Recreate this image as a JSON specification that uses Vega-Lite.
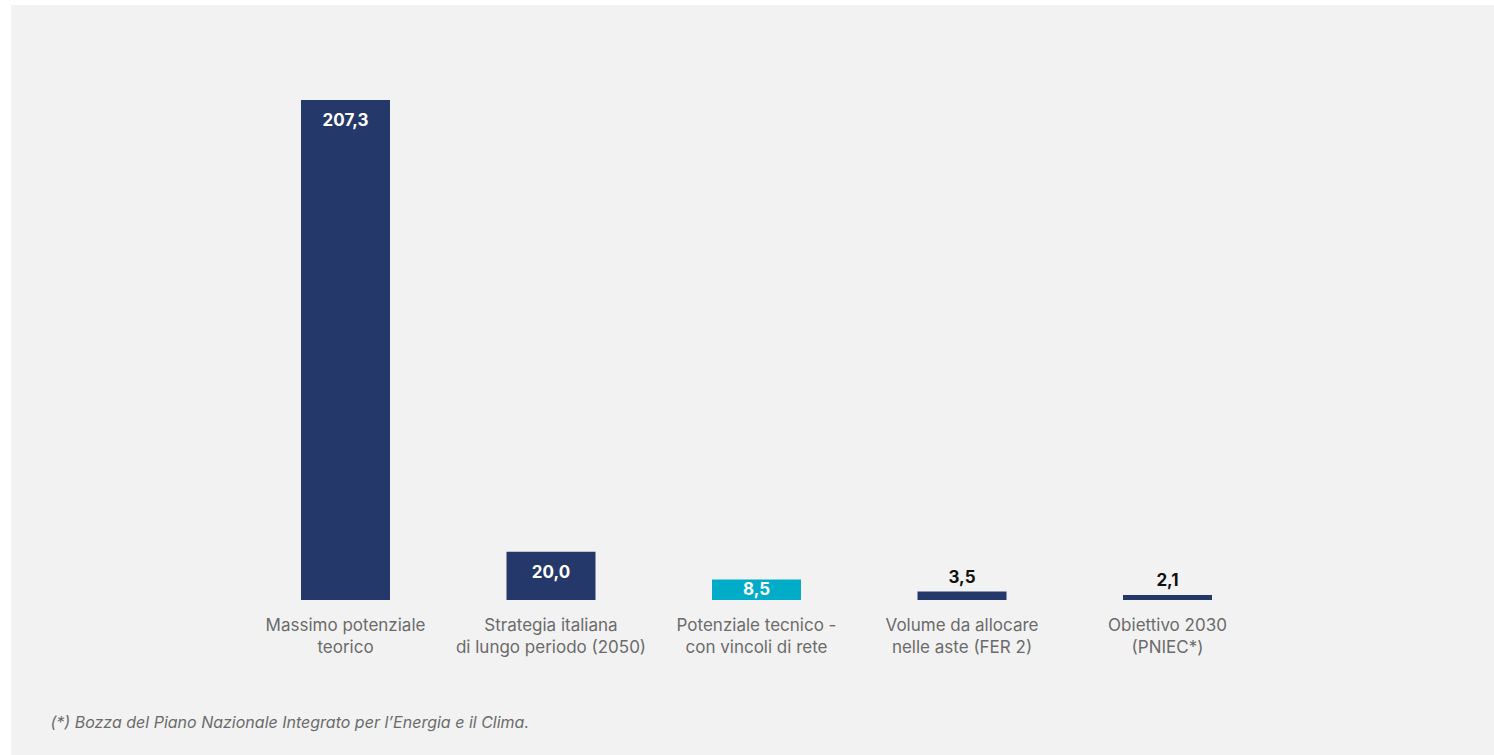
{
  "$schema": "https://vega.github.io/schema/vega-lite/v6.json",
  "width": 1483,
  "height": 750,
  "autosize": "none",
  "padding": {"left": 11, "top": 5, "right": 0, "bottom": 0},
  "background": "#ffffff",
  "view": {"fill": "#f2f2f2", "stroke": null},
  "config": {
    "font": "Inter",
    "locale": {"number": {"decimal": ",", "thousands": ".", "grouping": [3], "currency": ["\u20ac", ""]}}
  },
  "data": {
    "values": [
      {"categoria": "Massimo potenziale\nteorico", "valore": 207.3, "gruppo": "a"},
      {"categoria": "Strategia italiana\ndi lungo periodo (2050)", "valore": 20.0, "gruppo": "a"},
      {"categoria": "Potenziale tecnico -\ncon vincoli di rete", "valore": 8.5, "gruppo": "b"},
      {"categoria": "Volume da allocare\nnelle aste (FER 2)", "valore": 3.5, "gruppo": "a"},
      {"categoria": "Obiettivo 2030\n(PNIEC*)", "valore": 2.1, "gruppo": "a"}
    ]
  },
  "encoding": {
    "x": {
      "field": "categoria",
      "type": "nominal",
      "sort": null,
      "scale": {"range": [290, 1201], "paddingInner": 0.567, "paddingOuter": 0},
      "axis": {
        "orient": "bottom",
        "offset": -138,
        "domain": false,
        "ticks": false,
        "labelAngle": 0,
        "labelPadding": 0,
        "labelBaseline": "top",
        "labelFontSize": 17,
        "labelLineHeight": 22,
        "labelLimit": 0,
        "labelColor": "#6b6b6b",
        "labelExpr": "split(datum.label, '\\n')",
        "title": "(*) Bozza del Piano Nazionale Integrato per l\u2019Energia e il Clima.",
        "titleFontSize": 16,
        "titleFontStyle": "italic",
        "titleFontWeight": "normal",
        "titleColor": "#6b6b6b",
        "titleAnchor": "start",
        "titleAlign": "left",
        "titleBaseline": "middle",
        "titleX": 39,
        "titleY": 105
      }
    }
  },
  "layer": [
    {
      "mark": {"type": "bar"},
      "encoding": {
        "y": {
          "field": "valore",
          "type": "quantitative",
          "scale": {"domain": [-64.263, 246.687], "nice": false, "zero": false},
          "axis": null
        },
        "y2": {"datum": 0},
        "color": {
          "field": "gruppo",
          "type": "nominal",
          "scale": {"domain": ["a", "b"], "range": ["#243869", "#00acc8"]},
          "legend": null
        }
      }
    },
    {
      "transform": [{"filter": "datum.valore >= 15"}],
      "mark": {"type": "text", "dy": 21, "baseline": "middle", "fontSize": 17, "fontWeight": "bold", "color": "#ffffff"},
      "encoding": {
        "y": {"field": "valore", "type": "quantitative"},
        "text": {"field": "valore", "type": "quantitative", "format": ".1f"}
      }
    },
    {
      "transform": [{"filter": "datum.valore >= 5 && datum.valore < 15"}],
      "mark": {"type": "text", "dy": 11, "baseline": "middle", "fontSize": 17, "fontWeight": "bold", "color": "#ffffff"},
      "encoding": {
        "y": {"field": "valore", "type": "quantitative"},
        "text": {"field": "valore", "type": "quantitative", "format": ".1f"}
      }
    },
    {
      "transform": [{"filter": "datum.valore < 5"}],
      "mark": {"type": "text", "dy": -14, "baseline": "middle", "fontSize": 17, "fontWeight": "bold", "color": "#111111"},
      "encoding": {
        "y": {"field": "valore", "type": "quantitative"},
        "text": {"field": "valore", "type": "quantitative", "format": ".1f"}
      }
    }
  ]
}
